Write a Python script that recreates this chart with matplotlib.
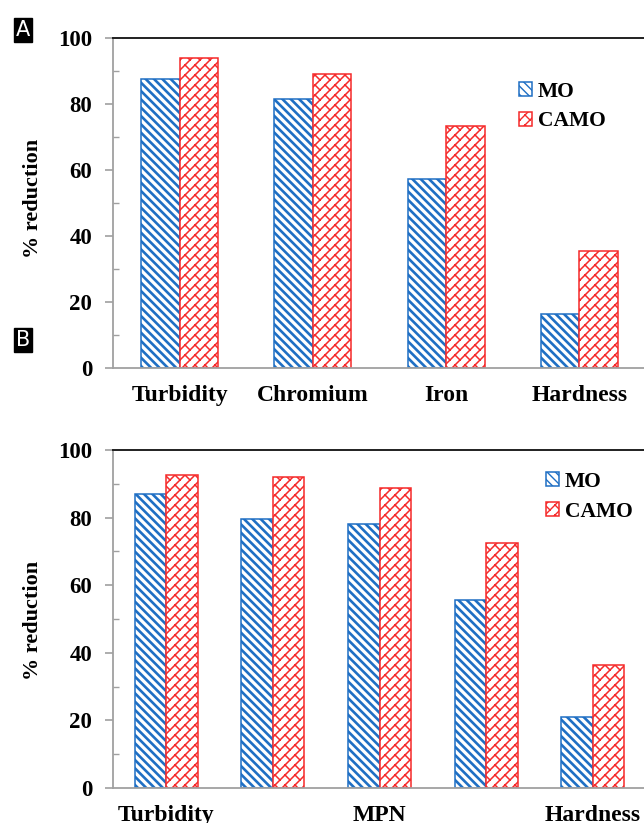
import warnings
import numpy as np
import matplotlib
matplotlib.use("Agg")
import matplotlib.pyplot as plt
import matplotlib.hatch as mhatch
import matplotlib.ticker as ticker
from matplotlib.path import Path

warnings.filterwarnings("ignore", message="hatch must consist")

# datos
cats_a = ["Turbidity", "Chromium", "Iron", "Hardness"]
mo_a = [87.7, 81.4, 57.4, 16.5]
camo_a = [93.9, 89.2, 73.2, 35.5]

cats_b = ["Turbidity", "Chromium", "MPN", "Iron", "Hardness"]
labels_b = ["Turbidity", "", "MPN", "", "Hardness"]  # solo se ven las alternas
mo_b = [87.0, 79.5, 78.0, 55.5, 21.0]
camo_b = [92.5, 92.0, 88.8, 72.5, 36.5]

yticks = [0, 20, 40, 60, 80, 100]

BLUE = "#1f6fc4"
RED = "#f52a2a"


# patron de ladrillos en diagonal, se usa con hatch='b'
class BrickHatch(mhatch.HatchPatternBase):
    def __init__(self, hatch, density):
        segs = []
        if "b" in hatch:
            m = 10  # filas de ladrillos por pulgada (par)
            P = 2.0 / m
            for k in range(-m, m + 1):
                c = k / m
                segs.append(((0.0, c), (1.0, 1.0 + c)))
            for k in range(-m, m):
                c0, c1 = k / m, (k + 1) / m
                off = (k % 2) * P / 2
                for j in range(-2, int(round(2 / P)) + 3):
                    d = j * P + off
                    segs.append((((d - c0) / 2, (d + c0) / 2),
                                 ((d - c1) / 2, (d + c1) / 2)))
        self.segs = segs
        self.num_vertices = 2 * len(segs)

    def set_vertices_and_codes(self, vertices, codes):
        for i, (p0, p1) in enumerate(self.segs):
            vertices[2 * i] = p0
            vertices[2 * i + 1] = p1
            codes[2 * i] = Path.MOVETO
            codes[2 * i + 1] = Path.LINETO


mhatch._hatch_types.append(BrickHatch)

plt.rcParams["font.family"] = ["Liberation Serif", "DejaVu Serif"]
plt.rcParams["font.weight"] = "bold"

fig = plt.figure(figsize=(6.44, 8.23), dpi=100)
W, H = 644, 823


def panel(rect, cats, labels, mo, camo, width, leg_xy):
    ax = fig.add_axes(rect)
    x = np.arange(len(cats))
    with plt.rc_context({"hatch.linewidth": 1.9}):
        b1 = ax.bar(x - width, mo, width, align="edge", color="white",
                    edgecolor=BLUE, hatch="\\\\\\\\", linewidth=1.1, label="MO")
    with plt.rc_context({"hatch.linewidth": 1.1}):
        b2 = ax.bar(x, camo, width, align="edge", color="white",
                    edgecolor=RED, hatch="b", linewidth=1.1, label="CAMO")
    for bars, lw in ((b1, 1.9), (b2, 1.1)):
        for p in bars:
            if hasattr(p, "set_hatch_linewidth"):
                p.set_hatch_linewidth(lw)

    ax.set_xlim(-0.5, len(cats) - 0.5)
    ax.set_ylim(0, 100)
    ax.set_xticks(x)
    ax.set_xticklabels(labels, fontsize=17, fontweight="bold")
    ax.set_yticks(yticks)
    ax.set_yticklabels([str(v) for v in yticks], fontsize=16.5, fontweight="bold")
    ax.yaxis.set_minor_locator(ticker.MultipleLocator(10))
    ax.tick_params(axis="x", length=0, pad=12)
    ax.tick_params(axis="y", which="major", direction="out", length=6,
                   width=1.2, color="#a0a0a0", pad=9)
    ax.tick_params(axis="y", which="minor", direction="in", length=4,
                   width=1.0, color="#a0a0a0")

    for s in ("left", "bottom"):
        ax.spines[s].set_color("#a0a0a0")
        ax.spines[s].set_linewidth(1.3)
    ax.spines["top"].set_color("#202020")
    ax.spines["top"].set_linewidth(1.4)
    ax.spines["right"].set_color("#d0d0d0")

    ax.legend(loc="upper left", bbox_to_anchor=leg_xy, frameon=False,
              prop={"size": 15.5, "weight": "bold"}, handlelength=0.62,
              handleheight=0.62, handletextpad=0.25, labelspacing=0.45,
              borderpad=0, borderaxespad=0)
    return ax


# panel A
axA = panel([113 / W, 1 - 368 / H, 533 / W, 330 / H], cats_a, cats_a,
            mo_a, camo_a, 0.289, (0.762, 0.868))
# panel B
axB = panel([113 / W, 1 - 788 / H, 533 / W, 338 / H], cats_b, labels_b,
            mo_b, camo_b, 0.295, (0.812, 0.935))

fig.text(33 / W, 1 - 198 / H, "% reduction", rotation=90, ha="center",
         va="center", fontsize=16, fontweight="bold")
fig.text(33 / W, 1 - 620 / H, "% reduction", rotation=90, ha="center",
         va="center", fontsize=16, fontweight="bold")

for lab, y in (("A", 30), ("B", 340)):
    fig.text(23 / W, 1 - y / H, lab, ha="center", va="center", color="white",
             fontsize=15, fontweight="normal", family="DejaVu Sans",
             bbox=dict(facecolor="black", edgecolor="black",
                       boxstyle="square,pad=0.1"))

fig.savefig("out.png", dpi=100)
